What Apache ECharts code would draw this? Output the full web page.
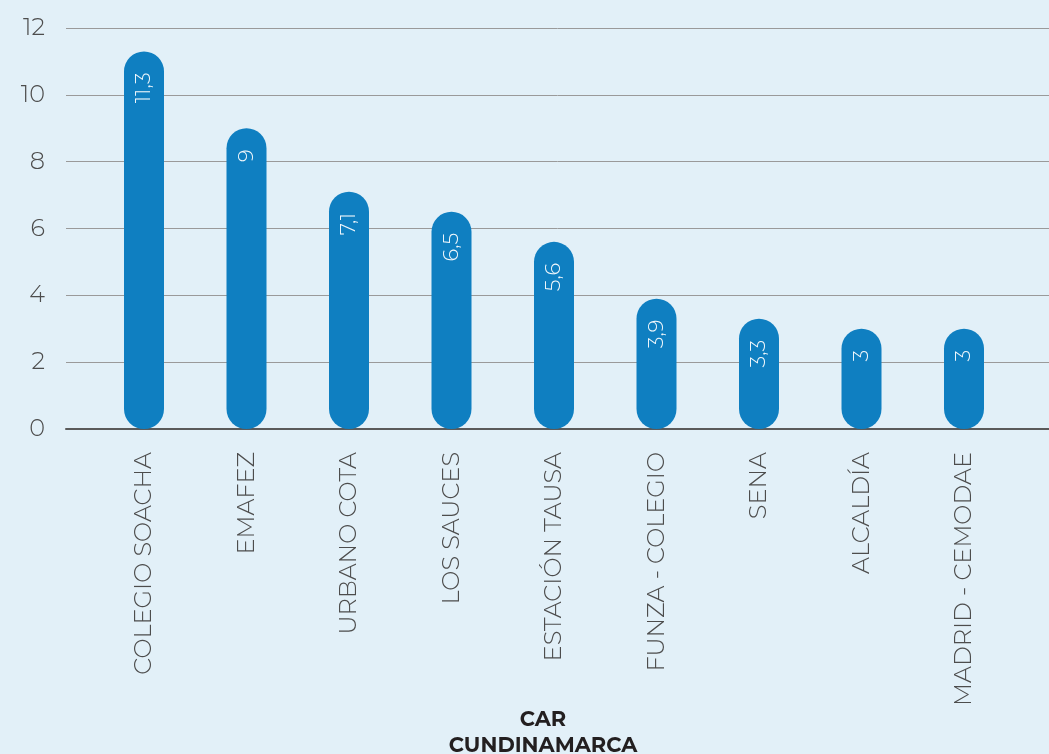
<!DOCTYPE html>
<html>
<head>
<meta charset="utf-8">
<script src="https://cdn.jsdelivr.net/npm/echarts@6/dist/echarts.min.js"></script>
<style>
  html, body { margin: 0; padding: 0; background: #e2f0f8; }
  #chart { width: 1049px; height: 754px; }
</style>
</head>
<body>
<div id="chart"></div>
<script>
// estaciones y valores
var estaciones = ['COLEGIO SOACHA', 'EMAFEZ', 'URBANO COTA', 'LOS SAUCES', 'ESTACIÓN TAUSA',
    'FUNZA - COLEGIO', 'SENA', 'ALCALDÍA', 'MADRID - CEMODAE'];
var valores = [11.3, 9, 7.1, 6.5, 5.6, 3.9, 3.3, 3, 3];
var yTicks = [0, 2, 4, 6, 8, 10, 12];
var tituloEje = 'CAR\nCUNDINAMARCA';

var fuente = 'Montserrat, "DejaVu Sans", sans-serif';
var chart = echarts.init(document.getElementById('chart'));

chart.setOption({
    backgroundColor: '#e2f0f8',
    animation: false,
    title: {
        text: tituloEje,
        left: 538,
        top: 702,
        textAlign: 'center',
        textStyle: {
            fontFamily: fuente,
            fontSize: 21,
            fontWeight: 'bold',
            color: '#231f20',
            lineHeight: 26
        }
    },
    grid: [
        {left: 66, right: 0, top: 28, bottom: 325},
        {left: 92.75, right: 33.75, top: 28, bottom: 325}
    ],
    xAxis: [
        {
            gridIndex: 0,
            type: 'category',
            data: [''],
            axisLine: {show: true, lineStyle: {color: '#5a5a5a', width: 2}},
            axisTick: {show: false},
            axisLabel: {show: false}
        },
        {
            gridIndex: 1,
            type: 'category',
            data: estaciones,
            axisLine: {show: false},
            axisTick: {show: false},
            axisLabel: {
                rotate: 90,
                margin: 23,
                interval: 0,
                fontFamily: fuente,
                fontSize: 24,
                fontWeight: 300,
                color: '#4d4d4d'
            }
        }
    ],
    yAxis: [
        {
            gridIndex: 0,
            type: 'value',
            min: yTicks[0],
            max: yTicks[yTicks.length - 1],
            interval: 2,
            axisLine: {show: false},
            axisTick: {show: false},
            axisLabel: {
                margin: 21,
                fontFamily: fuente,
                fontSize: 24,
                fontWeight: 300,
                color: '#4d4d4d'
            },
            splitLine: {lineStyle: {color: '#9a9a9a', width: 1}}
        },
        {
            gridIndex: 1,
            type: 'value',
            min: 0,
            max: 12,
            show: false,
            splitLine: {show: false}
        }
    ],
    series: [{
        type: 'bar',
        xAxisIndex: 1,
        yAxisIndex: 1,
        data: valores,
        barWidth: 40,
        itemStyle: {color: '#0f7fc1', borderRadius: 20},
        label: {
            show: true,
            position: 'insideTop',
            distance: 21,
            rotate: 90,
            align: 'right',
            verticalAlign: 'middle',
            fontFamily: fuente,
            fontSize: 21,
            fontWeight: 300,
            color: '#f2f8fc',
            formatter: function (p) {
                return String(p.value).replace('.', ',');
            }
        }
    }]
});
</script>
</body>
</html>
